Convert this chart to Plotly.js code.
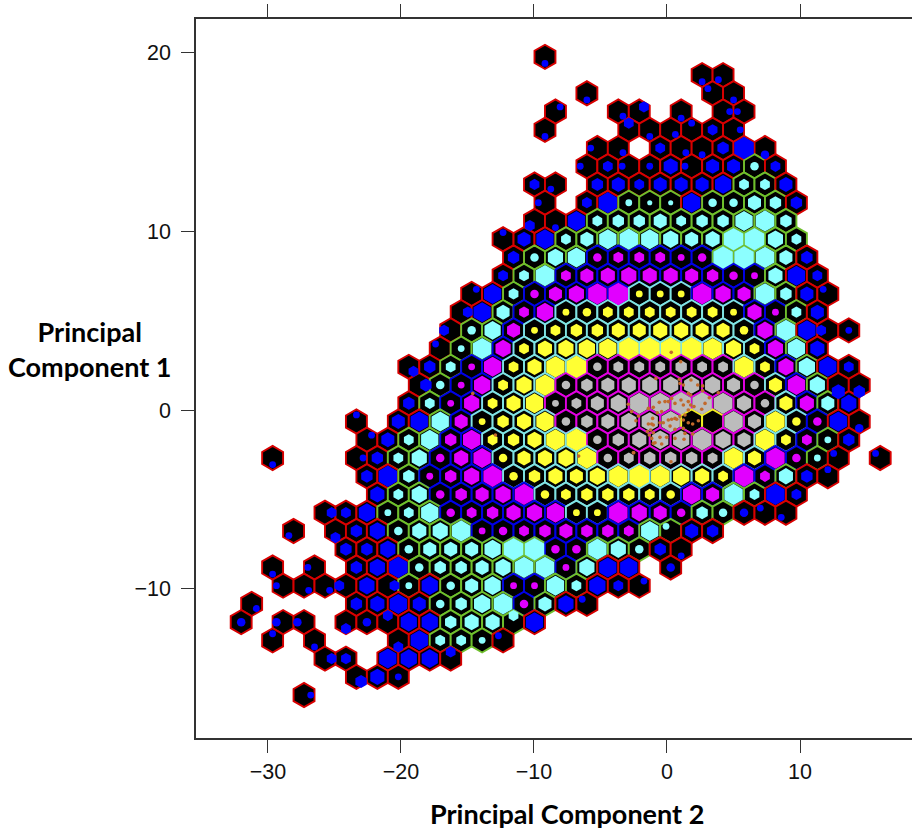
<!DOCTYPE html>
<html><head><meta charset="utf-8">
<script src="https://cdn.plot.ly/plotly-3.0.1.min.js"></script>
<style>html,body{margin:0;padding:0;background:#fff}</style></head>
<body><div id="chart" style="width:912px;height:831px"></div>
<script>
// Hexagonal bins: row r, half-column k. Cell token = outline level + nested size + optional centroid drift.
var gridX0 = -9.173, gridXStep = 0.7876, gridY0 = 19.78, gridYStep = 1.0213;
var rowStart = [0,15,4,1,0,5,4,-1,0,-1,-4,-3,-4,-7,-8,-9,-10,-13,-12,-13,-18,-17,-26,-17,-16,-21,-24,-19,-26,-25,-28,-29,-26,-21,-18,-23];
var rowCells = [
"R2s",
"R2s R2d",
"R2s -- -- -- -- -- R2b R2s",
"R2a -- -- R2c R3a -- R2s -- R2e R2w",
"R2s -- -- -- R3n R2s R2c R2n R3 R2e",
"R2w R2c -- R3 R2c R2s R3.5 R7 R2.5s",
"R2w R3 R2w R2 R4.5 R2w R4 R4 G2.5 R3",
"R3 R2d -- R3.5 R4 R3 R4 R4 R4 R5.5 G3 G3 R4",
"R2w -- R3 R6.5 G2 G1.5 G1.5 R6 G2.5 G2.5 G4 G3.5 R3.5",
"R3d R2s R6 G3 G3.5 G3.5 G4 G3 G3.5 G3.5 G6 G6.5 G3.5",
"R2n R4 R6 G3 G4 G6 G6.5 G6 G5 G4 G4.5 G7 G7 G5 G3",
"R3.5 G2.5 G5 G6 B2.5 B3 B3 B3 B2 B2.5 G7 G7 G6.5 G4 R3.5",
"R3 G3 G6.5 B3 B4 B4.5 B5 B4.5 B4.5 B4 B3.5 B2.5 B2 G4.5 R6 R3",
"R2a R6 G3 B2.5 B4 B5 B6.5 B7 C2 C2 C2 B6.5 B5 B4 G6.5 G3.5 R4 R2b",
"R3e R6 G4 B3 B5.5 C2 C2.5 C3 C3 C3 C3 C3 C3 C2 B4.5 B2 G3 R4",
"R3w G2.5 G5.5 B4 C2 C3 C3.5 C3.5 C4 C4 C4.5 C4.5 C4 C4 C2.5 B5 G6.5 R6 R3w R2",
"R2b G2 G6.5 B5 C3 C4.5 C5 C5.5 C6 C7 C7 C7 C7 C6.5 C5 C3 B5 G6 R4.5",
"R3c R3.5 G3 B2 B6 C3 C4.5 C6.5 C7 M2.5 M3 M3 M3 M3.5 M3 M3 C6.5 C3 B5 G5.5 R6 R3",
"R3.5e G2.5 B2 B5.5 C3 C5 C6.5 M2.5 M3.5 M4 M4.5 M5 M5 M5 M5 M4 M2.5 C4 B6 G5 R4s R3.5s",
"R3.5 G3 B2 B5 C3 C4.5 C6 M2 M3 M4 M5 M6.5 M6.5 M7 M7 M6.5 M4.5 M2.5 C4 B4.5 G4 R5",
"R2n -- R4 R6 G6 B4 C2 C3.5 C4.5 C6 M2.5 M3.5 M4 M5 M5.5 M6.5 Y0 Y0 M6.5 M4 C6.5 C2.5 B2.5 R6 R2.5s",
"R2a R4 G3 G6 B3.5 B6 C3 C3.5 C4.5 C6.5 C7 M2.5 M3.5 M4.5 M5.5 M5.5 M6.5 M5 M4 C6.5 C3 B3 G2 R3.5",
"R2s -- -- -- R2e R3.5 G3 G5 B2.5 B4.5 B6 C2.5 C4 C4.5 C5 C6.5 M2.5 M3 M3.5 M3.5 M3.5 M3 C6.5 C4 B6.5 B2.5 G2 R2b -- R2b",
"R3.5 R6.5 G3.5 B2 B3.5 B5 B6.5 C2.5 C3.5 C4.5 C4 C5 C6.5 C7 C6.5 C5.5 C4.5 C3 B6.5 B3 G4.5 R3.5 R2n",
"R4.5 G3 G5 B2.5 B3.5 B4 B5 B6.5 C2.5 C3 C3.5 C3.5 C3.5 C3 C2.5 B6 B4 G6.5 G3 R6.5 R3",
"R3e R3 R5.5 G2 G3 G6 B2.5 B3 B3.5 B4.5 B5 B6 C2 C2 B6.5 B5 B4 B2.5 G3.5 G2.5 R2.5 R2b R2d",
"R2d -- R3s R3.5 R5 G2.5 G4.5 G5 G6.5 B2 B2.5 B3 B3.5 B4 B3.5 B3.5 B3 G6 G2b R4 R3.5",
"R3.5 R3.5 R5 G2.5 G4 G4 G4 G5.5 G7 G7 B2.5 B2.5 G6.5 G5 G2.5 R3.5 R2s",
"R2s -- R2w -- R3.5 R5 R6.5 G2.5 G3.5 G3.5 G4 G5 G6.5 G6.5 B2 G5 R6 R6 -- R2.5",
"R2w R2c R2c R3w R5 R3e G2 R5.5 G2.5 G4 G5.5 B2 B2 G6 G3 R5.5 R3 R2a",
"R2c -- -- -- -- R3.5 R4.5 R6 R4 G2.5 G3.5 G5.5 G6.5 B2.5 G4 R5 R2b",
"R2.5 -- R2.5w R2.5w -- R3s R2.5 R3n R5.5 R5.5 G3.5 G4.5 G4.5 G3n R6",
"R2n -- R2s -- -- -- R3s R6 G3 G3 G2 R2b",
"R3e R3 -- R6 R5.5 R5.5 R3n",
"R3.5c R4.5 R2",
"R2e"
];
var outlineColor = {R:"#d80000",G:"#6fbf2c",B:"#0000e6",C:"#7fe3e3",M:"#e000e0",Y:"#f0f020"};
var innerColor = {R:"#0000ff",G:"#8cffff",B:"#e100ff",C:"#ffff33",M:"#bcbcbc",Y:"#000000"};
var driftX = {n:0,s:0,e:1,w:-1,a:0.7,b:-0.7,c:0.7,d:-0.7};
var driftY = {n:1,s:-1,e:0,w:0,a:0.7,b:0.7,c:-0.7,d:-0.7};
var driftXUnits = 0.5, driftYUnits = 0.37, cellMarker = 24.2;
function innerSize(s){ return s<=2.5 ? s*3.4 : (s<=4 ? s*3.75 : 15+(s-4)*2.5); }
// Centroids of the points in the densest bins
var dotX = [1.03,-0.83,0.93,0.98,1.80,1.23,2.31,2.68,2.68,1.60,1.78,3.86,-2.91,-0.58,-0.15,0.10,0.35,0.60,1.05,1.23,1.60,1.78,1.60,2.03,2.61,2.86,3.18,-1.03,-1.40,-2.66,-0.73,-0.40,-2.33,-2.15,-1.08,-1.40,-1.15,-1.03,-0.53,-0.28,0.10,0.35,0.60,0.73,0.98,0.23,0.60,1.23,1.35,1.60,1.93,2.36,1.23,1.35,-1.03,-1.23,-1.48,-1.33,-1.15,-1.03,-0.53,-0.03,-0.40,0.60,1.28,1.93,-2.53,-0.90,0.32,-6.64,-14.6,-12.9,0.30,-2.50];
var dotY = [2.71,1.77,1.72,1.49,1.68,1.40,1.40,1.35,1.08,0.93,0.84,0.97,0.32,0.43,0.47,0.47,0.65,0.37,0.56,0.28,0.47,0.28,0.00,0.19,0.04,0.37,0.69,0.15,0.09,-0.09,-0.15,-0.09,-0.60,-0.34,-0.47,-0.78,-0.78,-0.84,-0.71,-0.71,-0.56,-0.52,-0.47,-0.52,-0.37,-0.90,-1.08,-0.56,-0.28,-0.71,-0.78,-0.60,-1.03,-1.31,-1.27,-1.12,-1.21,-1.40,-1.59,-1.87,-1.53,-1.53,-1.90,-1.59,-1.64,-1.34,-2.39,-1.83,3.23,-2.58,0.93,-1.40,-2.90,-2.39];
var xTicks = [-30,-20,-10,0,10], yTicks = [-10,0,10,20];

var ox=[],oy=[],ol=[],ix=[],iy=[],is=[],ic=[],isym=[];
rowCells.forEach(function(row,r){
  row.split(" ").forEach(function(tok,n){
    if(tok==="--") return;
    var m=tok.match(/^([RGBCMY])([\d.]+)([nsewabcd]?)$/), lv=m[1], s=+m[2], d=m[3];
    var x=gridX0+(rowStart[r]+2*n)*gridXStep, y=gridY0-r*gridYStep;
    ox.push(x);oy.push(y);ol.push(outlineColor[lv]);
    if(s>0){
      ix.push(d?x+driftX[d]*driftXUnits:x);
      iy.push(d?y+driftY[d]*driftYUnits:y);
      is.push(innerSize(s));ic.push(innerColor[lv]);
      isym.push(s<=2.5?"circle":"hexagon");
    }
  });
});
var traces=[
 {type:"scatter",mode:"markers",x:ox,y:oy,hoverinfo:"skip",
  marker:{symbol:"hexagon",size:cellMarker,color:"#000",opacity:1,line:{color:ol,width:1.9}}},
 {type:"scatter",mode:"markers",x:ix,y:iy,hoverinfo:"skip",
  marker:{symbol:isym,size:is,color:ic,opacity:1,line:{width:0}}},
 {type:"scatter",mode:"markers",x:dotX,y:dotY,hoverinfo:"skip",
  marker:{symbol:"circle",size:3.6,color:"#c2692c",opacity:1,line:{width:0}}}
];
var tickFont={family:"Liberation Sans, Arial, sans-serif",size:21.5,color:"#111"};
var titleFont={family:"Lato, sans-serif",size:27,color:"#000",weight:700};
var layout={
 width:912,height:831,showlegend:false,paper_bgcolor:"#fff",plot_bgcolor:"#fff",
 margin:{l:196,r:0,t:19,b:93},
 xaxis:{range:[-35.41,18.42],tickvals:xTicks,ticks:"outside",ticklen:13,tickwidth:1.3,tickcolor:"#333",
   showgrid:false,zeroline:false,showline:true,linecolor:"#333",linewidth:1.5,mirror:"allticks",tickfont:tickFont,ticklabelstandoff:0},
 yaxis:{range:[-18.37,21.9],tickvals:yTicks,ticks:"outside",ticklen:13,tickwidth:1.3,tickcolor:"#333",
   showgrid:false,zeroline:false,showline:true,linecolor:"#333",linewidth:1.5,mirror:"allticks",tickfont:tickFont,ticklabelstandoff:6},
 annotations:[
  {xref:"paper",yref:"paper",x:(567-196)/716,y:(738-813.5)/719,text:"Principal Component 2",showarrow:false,font:titleFont,xanchor:"center",yanchor:"middle"},
  {xref:"paper",yref:"paper",x:(90-196)/716,y:(738-349)/719,text:"Principal<br>Component 1",showarrow:false,font:titleFont,xanchor:"center",yanchor:"middle",align:"center"}
 ]
};
Plotly.newPlot("chart",traces,layout,{displayModeBar:false,responsive:false});
</script></body></html>
